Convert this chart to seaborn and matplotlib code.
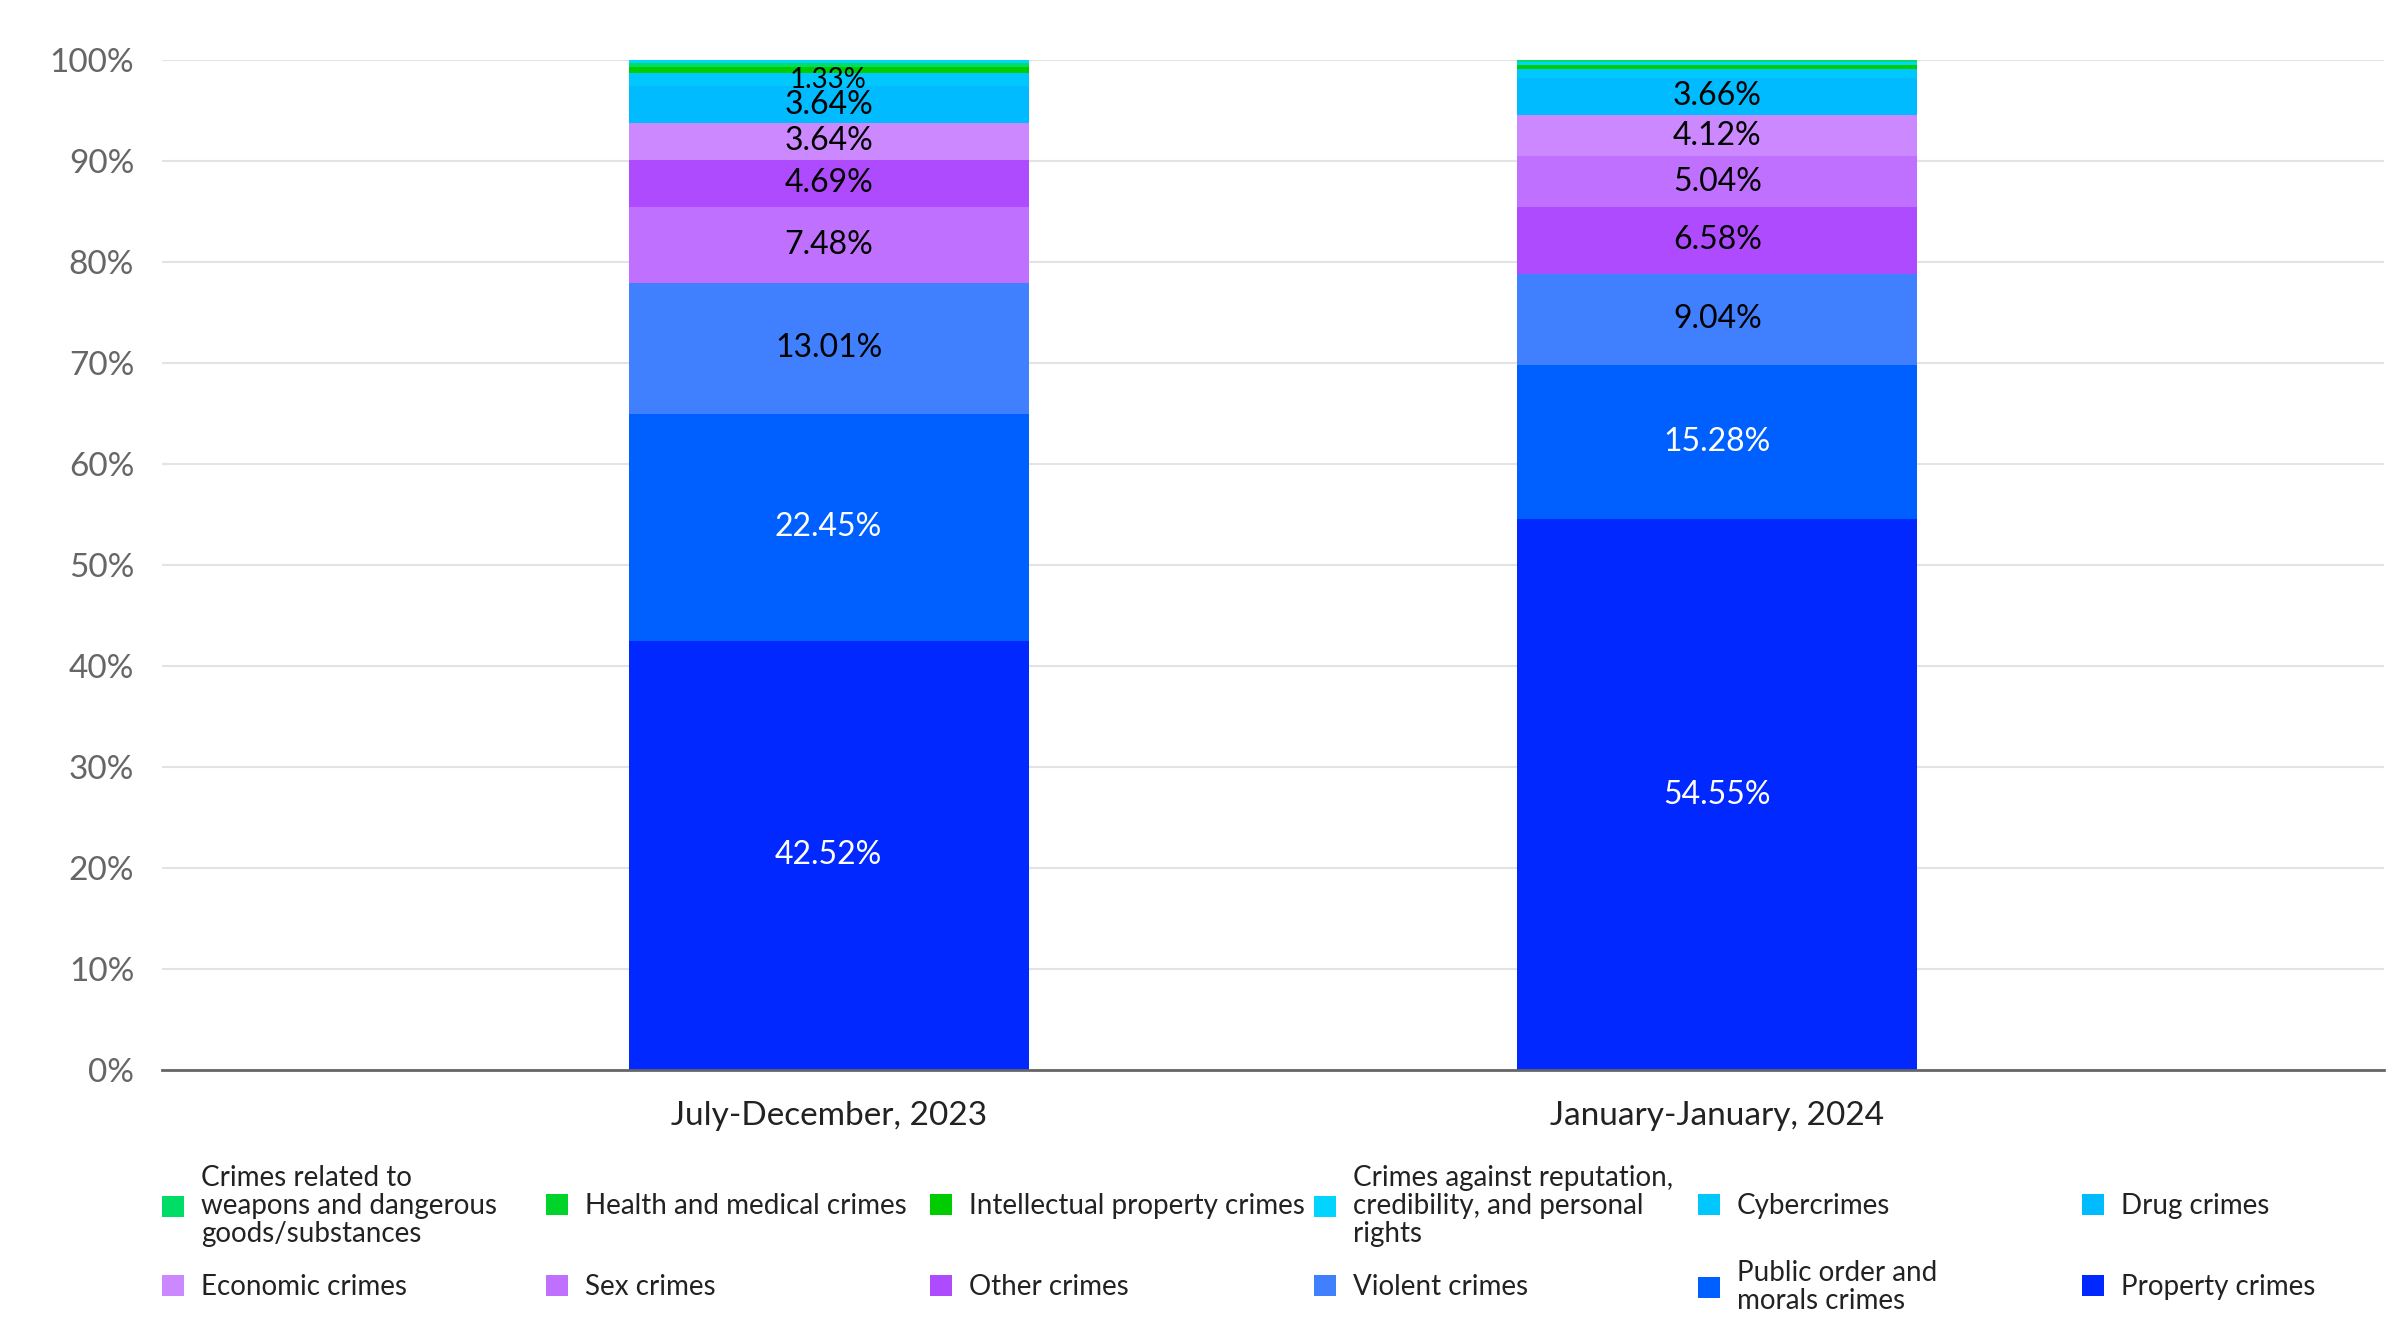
import pandas as pd
import numpy as np
import seaborn as sns
import matplotlib.pyplot as plt
from matplotlib.patches import Patch

# periods on the x axis
periods = ["July-December, 2023", "January-January, 2024"]

# categories, bottom of the stack first
categories = ["Property crimes", "Public order and\nmorals crimes", "Violent crimes",
              "Other crimes", "Sex crimes", "Economic crimes", "Drug crimes",
              "Cybercrimes", "Crimes against reputation,\ncredibility, and personal\nrights",
              "Intellectual property crimes", "Health and medical crimes",
              "Crimes related to\nweapons and dangerous\ngoods/substances"]

colors = ["#0028FF", "#0060FF", "#4080FF", "#AF4BFF", "#C070FF", "#CC88FF",
          "#00BBFF", "#00C8FF", "#00D4FF", "#00CC00", "#00D42A", "#00DD66"]

# shares (%) per category, same order as categories
share_2023 = [42.52, 22.45, 13.01, 4.69, 7.48, 3.64, 3.64, 1.33, 0.22, 0.62, 0.0, 0.40]
share_2024 = [54.55, 15.28, 9.04, 6.58, 5.04, 4.12, 3.66, 0.85, 0.30, 0.45, 0.0, 0.13]

yticks = [0, 10, 20, 30, 40, 50, 60, 70, 80, 90, 100]
ytick_labels = [f"{t}%" for t in yticks]

df = pd.DataFrame({
    "period": np.repeat(periods, len(categories)),
    "category": categories * 2,
    "value": share_2023 + share_2024,
})
# each bar is stacked largest segment first
df["rank"] = df.groupby("period")["value"].rank(ascending=False, method="first")
df = df.sort_values(["period", "rank"])
df["bottom"] = df.groupby("period")["value"].cumsum() - df["value"]

sns.set_theme(style="white")
plt.rcParams["font.family"] = ["Lato", "DejaVu Sans"]

fig, ax = plt.subplots(figsize=(24, 13.4), dpi=100)
fig.subplots_adjust(left=0.0675, right=0.9933, top=0.955, bottom=0.2015)

white_text = {"Property crimes", "Public order and\nmorals crimes"}
for cat, col in zip(categories, colors):
    sub = df[df["category"] == cat].set_index("period").reindex(periods).reset_index()
    sns.barplot(data=sub, x="period", y="value", order=periods, color=col,
                saturation=1, width=0.45, errorbar=None, bottom=sub["bottom"].values,
                linewidth=0, ax=ax)
    labels = [f"{v:.2f}%" if v >= 1 else "" for v in sub["value"]]
    ax.bar_label(ax.containers[-1], labels=labels, label_type="center",
                 fontsize=20 if cat == "Cybercrimes" else 23,
                 color="white" if cat in white_text else "black")

ax.set_xlim(-0.75, 1.75)
ax.set_ylim(0, 100)
ax.set_yticks(yticks)
ax.set_yticklabels(ytick_labels)
ax.yaxis.grid(True, color="#e3e3e3", linewidth=1.5)
ax.set_axisbelow(True)
ax.tick_params(axis="y", labelsize=24, labelcolor="#666666", length=0, pad=20)
ax.tick_params(axis="x", labelsize=24, labelcolor="#222222", length=0, pad=22)
ax.set_xlabel("")
ax.set_ylabel("")
for s in ["top", "right", "left"]:
    ax.spines[s].set_visible(False)
ax.spines["bottom"].set_color("#666666")
ax.spines["bottom"].set_linewidth(2)

# legend: 2 rows x 6 columns, reversed category order
legend_order = list(range(len(categories)))[::-1]
col_x = [0.0675 + 0.16 * i for i in range(6)]
row_y = [0.100, 0.0396]
for k, idx in enumerate(legend_order):
    r, c = divmod(k, 6)
    leg = fig.legend(handles=[Patch(facecolor=colors[idx], edgecolor="none")],
                     labels=[categories[idx]], loc="center left",
                     bbox_to_anchor=(col_x[c], row_y[r]), frameon=False,
                     fontsize=20, handlelength=0.8, handleheight=0.8,
                     handletextpad=0.6, borderpad=0, borderaxespad=0)
    for t in leg.get_texts():
        t.set_linespacing(1.1)
        t.set_color("#222222")

fig.savefig("out.png", dpi=100)
